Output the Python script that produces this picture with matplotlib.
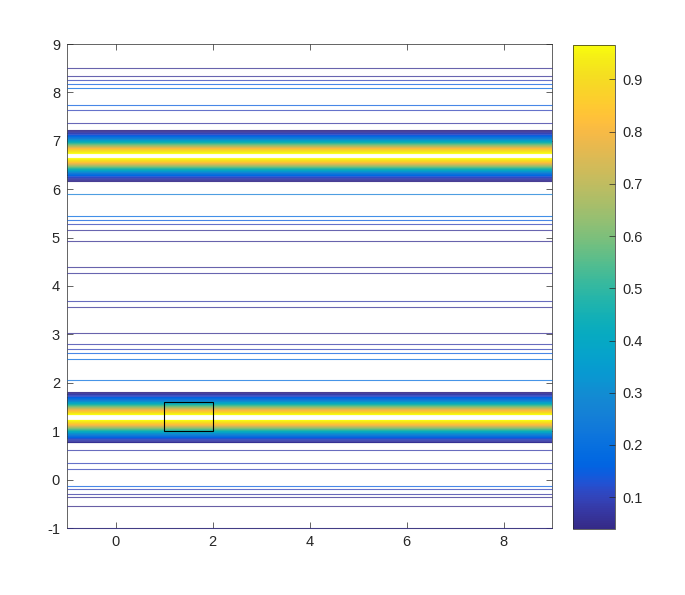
import numpy as np
import matplotlib
matplotlib.use("Agg")
import matplotlib.pyplot as plt
from matplotlib.colors import LinearSegmentedColormap, Normalize
from matplotlib.cm import ScalarMappable
from matplotlib.patches import Rectangle

# ---------------- data ----------------
# isolated contour lines: y position and contour level
line_y = [8.504, 8.333, 8.256, 8.180, 8.097, 7.740, 7.630, 7.360,
          5.901, 5.453, 5.364, 5.287, 5.163, 4.930, 4.393, 4.269,
          3.696, 3.572, 3.035, 2.802, 2.692, 2.610, 2.498, 2.064,
          0.605, 0.336, 0.225, -0.126, -0.200, -0.291, -0.366, -0.539, -1.000]
line_level = [0.05, 0.06, 0.10, 0.15, 0.17, 0.15, 0.10, 0.07,
              0.25, 0.18, 0.15, 0.10, 0.06, 0.05, 0.05, 0.06,
              0.08, 0.06, 0.05, 0.08, 0.10, 0.15, 0.18, 0.20,
              0.08, 0.10, 0.10, 0.15, 0.10, 0.07, 0.05, 0.04, 0.05]

# dense bands: centres and the field profile vs distance from centre
band_centers = [6.70, 1.29]
band_offsets = [0.0, 0.058, 0.10, 0.165, 0.25, 0.35, 0.43, 0.52, 0.62]
band_values = [1.0, 0.966, 0.90, 0.75, 0.50, 0.25, 0.12, 0.04, 0.0]

x_range = [-1, 9]
clim = [0.039, 0.966]

# rectangle marker
rect_x, rect_y, rect_w, rect_h = 1.0, 1.0, 1.0, 0.6

xticks = [0, 2, 4, 6, 8]
yticks = [-1, 0, 1, 2, 3, 4, 5, 6, 7, 8, 9]
cbar_ticks = [0.1, 0.2, 0.3, 0.4, 0.5, 0.6, 0.7, 0.8, 0.9]

# ---------------- parula colormap ----------------
parula_rgb = [
    (0.2081, 0.1663, 0.5292), (0.2116, 0.1898, 0.5777), (0.2123, 0.2138, 0.6270),
    (0.2081, 0.2386, 0.6771), (0.1959, 0.2645, 0.7279), (0.1707, 0.2919, 0.7792),
    (0.1253, 0.3242, 0.8303), (0.0591, 0.3598, 0.8683), (0.0117, 0.3875, 0.8820),
    (0.0060, 0.4086, 0.8828), (0.0165, 0.4266, 0.8786), (0.0329, 0.4430, 0.8720),
    (0.0498, 0.4586, 0.8641), (0.0629, 0.4737, 0.8554), (0.0723, 0.4887, 0.8467),
    (0.0779, 0.5040, 0.8384), (0.0793, 0.5200, 0.8312), (0.0749, 0.5375, 0.8263),
    (0.0641, 0.5570, 0.8240), (0.0488, 0.5772, 0.8228), (0.0343, 0.5966, 0.8199),
    (0.0265, 0.6137, 0.8135), (0.0239, 0.6287, 0.8038), (0.0231, 0.6418, 0.7913),
    (0.0228, 0.6535, 0.7768), (0.0267, 0.6642, 0.7607), (0.0384, 0.6743, 0.7436),
    (0.0590, 0.6838, 0.7254), (0.0843, 0.6928, 0.7062), (0.1133, 0.7015, 0.6859),
    (0.1453, 0.7098, 0.6646), (0.1801, 0.7177, 0.6424), (0.2178, 0.7250, 0.6193),
    (0.2586, 0.7317, 0.5954), (0.3022, 0.7376, 0.5712), (0.3482, 0.7424, 0.5473),
    (0.3953, 0.7459, 0.5244), (0.4420, 0.7481, 0.5033), (0.4871, 0.7491, 0.4840),
    (0.5300, 0.7491, 0.4661), (0.5709, 0.7485, 0.4494), (0.6099, 0.7473, 0.4337),
    (0.6473, 0.7456, 0.4188), (0.6834, 0.7435, 0.4044), (0.7184, 0.7411, 0.3905),
    (0.7525, 0.7384, 0.3768), (0.7858, 0.7356, 0.3633), (0.8185, 0.7327, 0.3498),
    (0.8507, 0.7299, 0.3360), (0.8824, 0.7274, 0.3217), (0.9139, 0.7258, 0.3063),
    (0.9450, 0.7261, 0.2886), (0.9739, 0.7314, 0.2666), (0.9938, 0.7455, 0.2403),
    (0.9990, 0.7653, 0.2164), (0.9955, 0.7861, 0.1967), (0.9880, 0.8066, 0.1794),
    (0.9789, 0.8271, 0.1633), (0.9697, 0.8481, 0.1475), (0.9626, 0.8705, 0.1309),
    (0.9589, 0.8949, 0.1132), (0.9598, 0.9218, 0.0948), (0.9661, 0.9514, 0.0755),
    (0.9763, 0.9831, 0.0538)]
parula = LinearSegmentedColormap.from_list("parula", parula_rgb, N=256)
norm = Normalize(vmin=clim[0], vmax=clim[1])

plt.rcParams['font.family'] = ['Liberation Sans', 'DejaVu Sans']
plt.rcParams['axes.unicode_minus'] = False
axcol = (0.15, 0.15, 0.15)

fig = plt.figure(figsize=(6.85, 5.95), dpi=100)
ax = fig.add_axes([67 / 685, 1 - 528 / 595, 485 / 685, 484 / 595])
cax = fig.add_axes([573 / 685, 1 - 529 / 595, 42 / 685, 484 / 595])

# build the band field on a y grid
ys = []
zs = []
for c in band_centers:
    for o, v in zip(band_offsets[::-1], band_values[::-1]):
        ys.append(c - o)
        zs.append(v)
    for o, v in zip(band_offsets[1:], band_values[1:]):
        ys.append(c + o)
        zs.append(v)
ys = np.array(ys)
zs = np.array(zs)
order = np.argsort(ys)
ys = ys[order]
zs = zs[order]
X, Y = np.meshgrid(np.array(x_range, dtype=float), ys)
Z = np.repeat(zs[:, None], 2, axis=1)

N_LEVELS = 64
levels = np.linspace(clim[0], clim[1], N_LEVELS)
ax.contour(X, Y, Z, levels=levels, cmap=parula, norm=norm, linewidths=0.8,
           alpha=0.9)

# isolated contour lines
ax.hlines(line_y, x_range[0], x_range[1],
          colors=[parula(norm(l)) for l in line_level],
          linewidths=0.8, alpha=0.75, clip_on=False, zorder=3)

ax.add_patch(Rectangle((rect_x, rect_y), rect_w, rect_h, fill=False,
                       edgecolor='black', linewidth=0.8, zorder=4))

ax.set_xlim(x_range)
ax.set_ylim(-1, 9)
ax.set_xticks(xticks)
ax.set_yticks(yticks)
ax.tick_params(direction='in', length=4, width=0.5, colors=axcol,
               labelsize=10.5, top=True, right=True, pad=5)
for s in ax.spines.values():
    s.set_linewidth(0.5)
    s.set_color(axcol)

cb = fig.colorbar(ScalarMappable(norm=norm, cmap=parula), cax=cax, ticks=cbar_ticks)
cb.outline.set_linewidth(0.5)
cb.outline.set_edgecolor(axcol)
cax.tick_params(direction='in', length=4, width=0.5, colors=axcol,
                labelsize=10.5, pad=5)
cb.set_ticklabels([f"{t:.1f}" for t in cbar_ticks])

fig.savefig("out.png", dpi=100)
